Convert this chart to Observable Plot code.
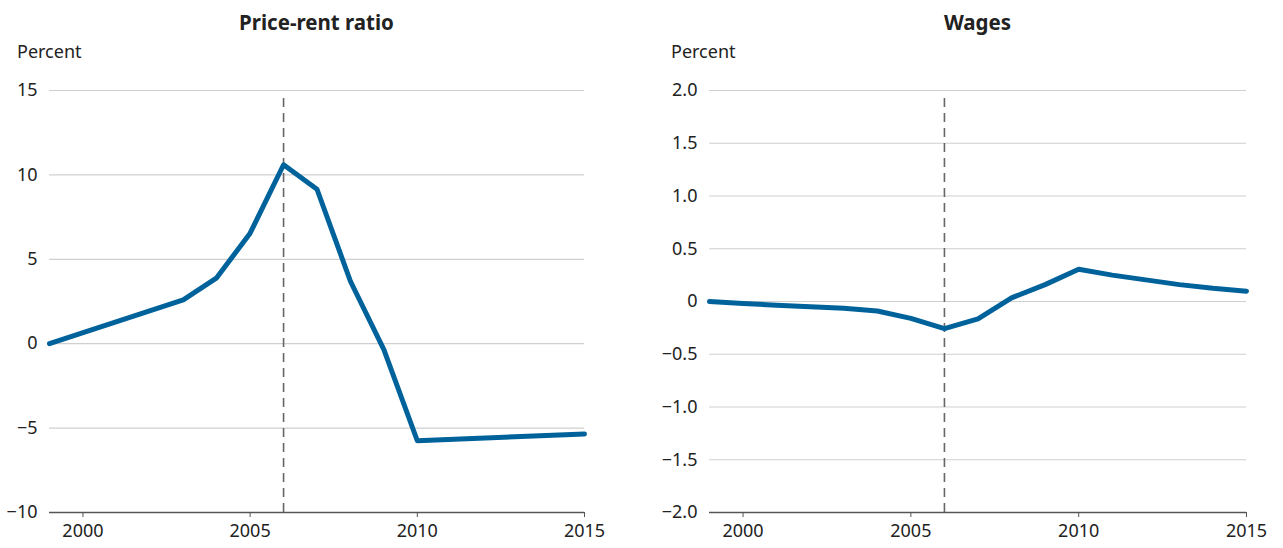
<!DOCTYPE html>
<html>
<head>
<meta charset="utf-8">
<script src="https://cdn.jsdelivr.net/npm/d3@7"></script>
<script src="https://cdn.jsdelivr.net/npm/@observablehq/plot@0.6"></script>
<style>
  html, body { margin: 0; padding: 0; background: #fff; }
  body { width: 1283px; height: 548px; position: relative; overflow: hidden; font-family: "Noto Sans", sans-serif; color: #222; }
  .panel { position: absolute; top: 0; height: 548px; }
  .title { position: absolute; top: 8px; font-weight: bold; font-size: 20.5px; text-align: center; }
  .unit { position: absolute; top: 39px; font-size: 18px; }
  .chart { position: absolute; top: 70px; left: 0; }
</style>
</head>
<body>
<div class="panel" id="left" style="left:0;width:641px;">
  <div class="title" style="left:49px;width:535px;">Price-rent ratio</div>
  <div class="unit" style="left:17px;">Percent</div>
  <div class="chart" id="chartL"></div>
</div>
<div class="panel" id="right" style="left:641px;width:642px;">
  <div class="title" style="left:68px;width:537px;">Wages</div>
  <div class="unit" style="left:30px;">Percent</div>
  <div class="chart" id="chartR"></div>
</div>
<script>
// Price-rent ratio
const priceYears  = [1999, 2003, 2004, 2005, 2006, 2007, 2008, 2009, 2010, 2015];
const priceValues = [0, 2.6, 3.9, 6.55, 10.6, 9.15, 3.7, -0.35, -5.75, -5.35];
const priceTicks  = [-10, -5, 0, 5, 10, 15];

// Wages
const wageYears  = [1999, 2000, 2001, 2002, 2003, 2004, 2005, 2006, 2007, 2008, 2009, 2010, 2011, 2012, 2013, 2014, 2015];
const wageValues = [0, -0.02, -0.035, -0.05, -0.065, -0.09, -0.16, -0.258, -0.165, 0.035, 0.16, 0.305, 0.25, 0.205, 0.16, 0.125, 0.098];
const wageTicks  = [-2.0, -1.5, -1.0, -0.5, 0, 0.5, 1.0, 1.5, 2.0];

const xTicks = [2000, 2005, 2010, 2015];
const markerYear = 2006;

const lineColor = "#00629b";

function panel({years, values, yDomain, yTicks, yFormat, width, marginLeft, marginRight, dashTop}) {
  const data = years.map((y, i) => ({year: y, value: values[i]}));
  return Plot.plot({
    width,
    height: 478,
    marginTop: 20,
    marginBottom: 36,
    marginLeft,
    marginRight,
    style: {fontFamily: "'Noto Sans', sans-serif", fontSize: "18px", color: "#222", background: "#fff", overflow: "visible"},
    x: {domain: [1999, 2015], label: null},
    y: {domain: yDomain, label: null},
    marks: [
      Plot.gridY(yTicks.filter(t => t !== yDomain[0]), {stroke: "#cfcfcf", strokeOpacity: 1, strokeWidth: 1.2}),
      Plot.ruleY([yDomain[0]], {stroke: "#555", strokeWidth: 1.5}),
      Plot.ruleX([markerYear], {y1: yDomain[0], y2: dashTop, stroke: "#666", strokeWidth: 1.6, strokeDasharray: "9,6"}),
      Plot.axisX({ticks: xTicks, tickFormat: d => String(d), tickSize: 5, tickPadding: 7, stroke: "#555", fill: "#222", fontSize: 18, label: null}),
      Plot.axisY({ticks: yTicks, tickFormat: yFormat, tickSize: 0, tickPadding: 12, fill: "#222", fontSize: 18, label: null}),
      Plot.line(data, {x: "year", y: "value", stroke: lineColor, strokeWidth: 5, strokeLinejoin: "round", strokeLinecap: "round"})
    ]
  });
}

const minus = s => s.replace("-", "\u2212");

document.getElementById("chartL").append(panel({
  years: priceYears, values: priceValues,
  yDomain: [-10, 15], yTicks: priceTicks,
  yFormat: d => minus(String(d)),
  width: 641, marginLeft: 49, marginRight: 57, dashTop: 14.6
}));

document.getElementById("chartR").append(panel({
  years: wageYears, values: wageValues,
  yDomain: [-2, 2], yTicks: wageTicks,
  yFormat: d => d === 0 ? "0" : minus(d3.format(".1f")(d)),
  width: 642, marginLeft: 68, marginRight: 37, dashTop: 1.93
}));
</script>
</body>
</html>
